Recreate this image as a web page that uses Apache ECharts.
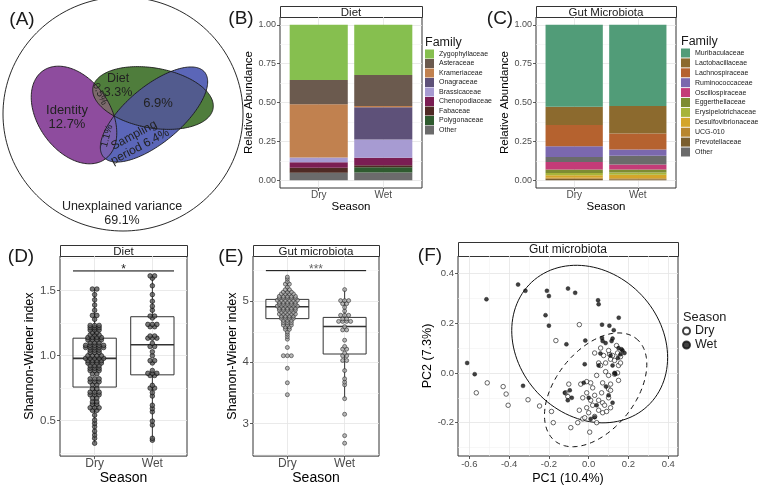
<!DOCTYPE html>
<html>
<head>
<meta charset="utf-8">
<script src="https://cdn.jsdelivr.net/npm/echarts@6.0.0/dist/echarts.min.js"></script>
<style>
html,body{margin:0;padding:0;background:#ffffff;}
#chart{width:765px;height:486px;}
</style>
</head>
<body>
<div id="chart"></div>
<script>
// ===================== DATA =====================
const seasons = ['Dry', 'Wet'];

// (A) variance partitioning (Euler diagram), coordinates in panel units
const vennSets = ['Diet', 'Identity', 'Sampling period'];
const vennCx = [153, 74, 154];
const vennCy = [98, 115, 114.5];
const vennRx = [61, 54, 66];
const vennRy = [30, 36, 28];
const vennAngle = [10, 55, -40];
const vennPairs = [[0, 1], [1, 2], [0, 2]];
const universeCircle = [123, 114, 120, 117];
const vennLabels = ['Identity\n12.7%', 'Diet\n3.3%', '6.9%', 'Sampling\nperiod 6.4%', '1.1%', '0.5%', 'Unexplained variance\n69.1%'];
const vennLabelX = [67, 118, 158, 137, 107, 100, 122];
const vennLabelY = [117, 85.5, 103, 141, 136, 94, 213.5];
const vennLabelAngle = [0, 0, 0, 28, 75, -65, 0];

// (B) diet composition
const dietFamilies = ['Zygophyllaceae', 'Asteraceae', 'Krameriaceae', 'Onagraceae', 'Brassicaceae', 'Chenopodiaceae', 'Fabaceae', 'Polygonaceae', 'Other'];
const dietDry = [0.355, 0.157, 0.341, 0.000, 0.032, 0.035, 0.032, 0.001, 0.047];
const dietWet = [0.323, 0.200, 0.008, 0.207, 0.118, 0.047, 0.013, 0.034, 0.050];

// (C) gut microbiota composition
const gutFamilies = ['Muribaculaceae', 'Lactobacillaceae', 'Lachnospiraceae', 'Ruminococcaceae', 'Oscillospiraceae', 'Eggerthellaceae', 'Erysipelotrichaceae', 'Desulfovibrionaceae', 'UCG-010', 'Prevotellaceae', 'Other'];
const gutStackTopDown = ['Muribaculaceae', 'Lactobacillaceae', 'Lachnospiraceae', 'Ruminococcaceae', 'Other', 'Oscillospiraceae', 'Eggerthellaceae', 'Erysipelotrichaceae', 'Desulfovibrionaceae', 'UCG-010', 'Prevotellaceae'];
const gutDry = [0.527, 0.118, 0.136, 0.069, 0.049, 0.022, 0.015, 0.016, 0.006, 0.010, 0.032];
const gutWet = [0.523, 0.176, 0.103, 0.041, 0.032, 0.019, 0.015, 0.023, 0.005, 0.007, 0.056];

// (D) diet Shannon-Wiener index
const dietShannonDry = [1.513, 1.513, 1.47, 1.43, 1.39, 1.35, 1.31, 1.31, 1.28, 1.233, 1.233, 1.233, 1.216, 1.216, 1.216, 1.198, 1.198, 1.198, 1.178, 1.178, 1.16, 1.16, 1.16, 1.14, 1.14, 1.14, 1.14, 1.122, 1.122, 1.122, 1.122, 1.10, 1.10, 1.10, 1.08, 1.08, 1.08, 1.08, 1.08, 1.063, 1.063, 1.063, 1.063, 1.063, 1.043, 1.043, 1.043, 1.025, 1.025, 1.025, 1.0, 1.0, 1.0, 1.0, 0.98, 0.98, 0.98, 0.98, 0.98, 0.962, 0.962, 0.962, 0.962, 0.944, 0.944, 0.944, 0.944, 0.924, 0.924, 0.924, 0.904, 0.904, 0.904, 0.886, 0.886, 0.886, 0.86, 0.86, 0.822, 0.822, 0.822, 0.80, 0.80, 0.80, 0.777, 0.777, 0.746, 0.746, 0.72, 0.72, 0.72, 0.70, 0.70, 0.70, 0.675, 0.675, 0.645, 0.645, 0.627, 0.627, 0.60, 0.60, 0.60, 0.58, 0.58, 0.543, 0.505, 0.48, 0.454, 0.42, 0.39, 0.365, 0.327];
const dietShannonWet = [1.614, 1.614, 1.596, 1.538, 1.47, 1.419, 1.381, 1.35, 1.305, 1.305, 1.29, 1.241, 1.241, 1.241, 1.223, 1.223, 1.152, 1.152, 1.135, 1.135, 1.135, 1.096, 1.071, 1.071, 1.03, 1.0, 0.962, 0.962, 0.944, 0.886, 0.865, 0.865, 0.865, 0.848, 0.848, 0.772, 0.751, 0.751, 0.716, 0.69, 0.619, 0.594, 0.569, 0.497, 0.467, 0.365, 0.35];
const dietBoxDry = [0.327, 0.759, 0.98, 1.135, 1.513];
const dietBoxWet = [0.35, 0.853, 1.084, 1.30, 1.614];
const dietSig = [0.625, 2.375, 1.652];
const dietSigLabel = '*';

// (E) gut microbiota Shannon-Wiener index
const gutShannonDry = [5.395, 5.362, 5.32, 5.28, 5.28, 5.232, 5.19, 5.19, 5.15, 5.15, 5.15, 5.12, 5.12, 5.12, 5.12, 5.08, 5.08, 5.08, 5.08, 5.08, 5.05, 5.05, 5.05, 5.05, 5.05, 5.016, 5.016, 5.016, 5.016, 5.016, 5.016, 4.984, 4.984, 4.984, 4.984, 4.984, 4.95, 4.95, 4.95, 4.95, 4.95, 4.92, 4.92, 4.92, 4.92, 4.92, 4.92, 4.886, 4.886, 4.886, 4.886, 4.886, 4.854, 4.854, 4.854, 4.854, 4.854, 4.82, 4.82, 4.82, 4.82, 4.79, 4.79, 4.79, 4.79, 4.79, 4.757, 4.757, 4.757, 4.757, 4.72, 4.72, 4.72, 4.72, 4.686, 4.686, 4.686, 4.65, 4.65, 4.65, 4.61, 4.61, 4.61, 4.578, 4.578, 4.54, 4.54, 4.497, 4.46, 4.42, 4.378, 4.243, 4.108, 4.108, 4.108, 3.903, 3.665, 3.47];
const gutShannonWet = [5.19, 5.01, 5.01, 5.01, 4.96, 4.96, 4.90, 4.84, 4.77, 4.77, 4.77, 4.71, 4.71, 4.67, 4.67, 4.67, 4.67, 4.584, 4.53, 4.53, 4.362, 4.26, 4.216, 4.216, 4.15, 4.108, 4.108, 4.03, 4.03, 3.865, 3.73, 3.676, 3.632, 3.405, 3.15, 2.80, 2.676];
const gutBoxDry = [4.378, 4.715, 4.91, 5.03, 5.395];
const gutBoxWet = [3.405, 4.136, 4.585, 4.735, 5.19];
const gutSig = [0.625, 2.375, 5.50];
const gutSigLabel = '***';

// (F) PCA of gut microbiota
const pcaDry = [[-0.565,-0.080],[-0.510,-0.040],[-0.430,-0.055],[-0.415,-0.085],[-0.405,-0.130],[-0.305,-0.108],[-0.247,-0.133],[-0.187,-0.155],[-0.178,-0.200],[-0.165,0.130],[-0.090,-0.220],[-0.100,-0.045],[-0.105,-0.095],[-0.115,-0.080],[-0.047,-0.150],[-0.055,-0.200],[-0.030,-0.185],[-0.047,0.194],[0.030,0.080],[0.075,0.070],[0.105,0.075],[0.120,0.070],[0.145,0.080],[0.110,0.055],[0.050,0.040],[0.060,0.030],[0.085,0.040],[0.150,0.030],[0.160,0.040],[0.145,0.000],[0.130,-0.005],[0.100,-0.010],[0.040,-0.010],[-0.010,-0.035],[0.010,-0.040],[-0.040,-0.045],[0.020,-0.060],[0.070,-0.040],[0.100,-0.065],[0.110,-0.070],[0.065,-0.080],[0.030,-0.090],[-0.010,-0.080],[-0.030,-0.100],[0.010,-0.110],[0.050,-0.110],[0.070,-0.120],[0.100,-0.100],[0.080,-0.130],[0.110,-0.140],[0.050,-0.150],[0.020,-0.130],[-0.010,-0.140],[0.000,-0.160],[0.030,-0.175],[-0.020,-0.180],[0.070,-0.160],[0.090,-0.155],[0.040,-0.200],[0.110,-0.045],[0.150,-0.030],[0.085,0.005],[0.060,0.100],[0.140,0.110],[0.100,0.090],[0.130,0.050],[0.005,-0.238],[0.160,0.065]];
const pcaWet = [[-0.611,0.040],[-0.573,-0.005],[-0.514,0.296],[-0.355,0.355],[-0.318,0.330],[-0.330,-0.052],[-0.210,0.330],[-0.200,0.309],[-0.217,0.232],[-0.200,0.190],[-0.104,0.339],[-0.068,0.322],[-0.112,0.115],[-0.120,-0.080],[-0.105,-0.110],[-0.095,-0.070],[-0.085,-0.100],[-0.017,0.130],[-0.020,0.035],[-0.025,-0.040],[0.000,-0.100],[0.047,0.292],[0.050,0.276],[0.151,0.222],[0.067,0.194],[0.104,0.190],[0.126,0.172],[0.067,0.140],[0.070,0.128],[0.120,0.138],[0.115,0.128],[0.170,0.090],[0.180,0.080],[0.147,0.060],[0.059,0.078],[0.134,-0.004],[0.087,-0.055],[0.100,-0.090],[0.120,0.030],[0.160,0.075],[0.085,0.120],[0.040,-0.130],[0.130,0.000],[0.150,0.100],[0.110,0.070],[0.050,0.030],[0.165,0.095],[0.120,-0.120],[0.030,-0.178],[0.010,-0.185]];
// 95% ellipses: centre and the two semi-axis vectors (data units)
const ellipseSeason = ['Wet', 'Dry'];
const ellipseCx = [0.005, 0.035];
const ellipseCy = [0.116, -0.068];
const ellipseAx = [0.2914, 0.2038];
const ellipseAy = [-0.2489, 0.2062];
const ellipseBx = [-0.2619, 0.157];
const ellipseBy = [-0.1958, -0.0991];

// tick values
const seasonTicks = [1, 2];
const abundTicks = [0, 0.25, 0.5, 0.75, 1];
const abundMinor = [0.125, 0.375, 0.625, 0.875];
const dietShTicks = [0.5, 1.0, 1.5];
const dietShMinor = [0.25, 0.75, 1.25, 1.75];
const gutShTicks = [3, 4, 5];
const gutShMinor = [2.5, 3.5, 4.5, 5.5];
const pc1Ticks = [-0.6, -0.4, -0.2, 0, 0.2, 0.4];
const pc1Minor = [-0.5, -0.3, -0.1, 0.1, 0.3];
const pc2Ticks = [-0.2, 0, 0.2, 0.4];
const pc2Minor = [-0.3, -0.1, 0.1, 0.3];

// ===================== STYLE =====================
const FONT = '"Liberation Sans", Arial, sans-serif';
const vennFill = ['#4f7d3c', '#8e4c9e', '#5b66b8'];
const vennPairFill = ['#7d6a6c', '#7760ae', '#525b8e'];
const vennLabelSize = [13, 12.5, 13, 12, 10, 10, 12.5];
const dietColors = ['#86bf4f', '#6b5a4e', '#c1814f', '#5e5179', '#a79bd2', '#7b1e53', '#4f2a24', '#2f5b2f', '#6b6b6b'];
const gutColors = ['#519c78', '#8c6a2e', '#b5622f', '#7b68ae', '#c43c78', '#7d8c32', '#a7b43a', '#d4a52a', '#b8862e', '#7a5e2e', '#6b6b6b'];

function txt(text, x, y, size, opt) {
  opt = opt || {};
  const align = opt.align || 'center';
  const va = opt.va || 'middle';
  return {
    type: 'text', x: x, y: y, rotation: opt.rotation || 0, z: 100,
    style: {
      text: text, font: size + 'px ' + FONT, fill: opt.color || '#1a1a1a',
      align: align, textAlign: align, verticalAlign: va, textVerticalAlign: va,
      lineHeight: opt.lineHeight || undefined
    }
  };
}

// ===================== RENDERERS =====================
function vennGeom(api, i) {
  const c = api.coord([vennCx[i], vennCy[i]]);
  const s = api.size([vennRx[i], vennRy[i]]);
  return { c: c, rx: s[0], ry: s[1], a: vennAngle[i] * Math.PI / 180 };
}
function geomPts(g) {
  const pts = [];
  for (let k = 0; k < 180; k++) {
    const t = 2 * Math.PI * k / 180;
    const lx = g.rx * Math.cos(t), ly = g.ry * Math.sin(t);
    pts.push([g.c[0] + lx * Math.cos(g.a) - ly * Math.sin(g.a), g.c[1] + lx * Math.sin(g.a) + ly * Math.cos(g.a)]);
  }
  return pts;
}
function inside(p, g) {
  const dx = p[0] - g.c[0], dy = p[1] - g.c[1];
  const lx = dx * Math.cos(g.a) + dy * Math.sin(g.a);
  const ly = -dx * Math.sin(g.a) + dy * Math.cos(g.a);
  return (lx / g.rx) * (lx / g.rx) + (ly / g.ry) * (ly / g.ry) <= 1;
}
function intersectPoly(g1, g2) {
  const pts = geomPts(g1).filter(p => inside(p, g2)).concat(geomPts(g2).filter(p => inside(p, g1)));
  if (pts.length < 3) return [];
  let mx = 0, my = 0;
  pts.forEach(p => { mx += p[0]; my += p[1]; });
  mx /= pts.length; my /= pts.length;
  return pts.sort((p, q) => Math.atan2(p[1] - my, p[0] - mx) - Math.atan2(q[1] - my, q[0] - mx));
}
function ellipsePts(api, cx, cy, rx, ry, angDeg) {
  const c = api.coord([cx, cy]);
  const s = api.size([rx, ry]);
  return geomPts({ c: c, rx: s[0], ry: s[1], a: angDeg * Math.PI / 180 });
}
function barRender(params, api) {
  const x = api.value(0), y0 = api.value(1), y1 = api.value(2);
  if (!(y1 - y0 > 0)) return null;
  const p0 = api.coord([x - 0.45, y1]);
  const p1 = api.coord([x + 0.45, y0]);
  return { type: 'rect', shape: { x: p0[0], y: p0[1], width: p1[0] - p0[0], height: p1[1] - p0[1] }, style: { fill: api.visual('color') } };
}
function boxRender(params, api) {
  const x = api.value(0), lo = api.value(1), q1 = api.value(2), md = api.value(3), q3 = api.value(4), hi = api.value(5);
  const hw = 0.375, st = '#333333';
  const pLo = api.coord([x, lo]), pHi = api.coord([x, hi]);
  const a = api.coord([x - hw, q3]), b = api.coord([x + hw, q1]);
  const m1 = api.coord([x - hw, md]), m2 = api.coord([x + hw, md]);
  return { type: 'group', children: [
    { type: 'line', shape: { x1: pLo[0], y1: pLo[1], x2: pLo[0], y2: b[1] }, style: { stroke: st, lineWidth: 1 } },
    { type: 'line', shape: { x1: pHi[0], y1: a[1], x2: pHi[0], y2: pHi[1] }, style: { stroke: st, lineWidth: 1 } },
    { type: 'rect', shape: { x: a[0], y: a[1], width: b[0] - a[0], height: b[1] - a[1] }, style: { fill: 'none', stroke: st, lineWidth: 1 } },
    { type: 'line', shape: { x1: m1[0], y1: m1[1], x2: m2[0], y2: m2[1] }, style: { stroke: st, lineWidth: 1.6 } }
  ] };
}
function sigRender(label, color) {
  return function (params, api) {
    const a = api.coord([api.value(0), api.value(2)]);
    const b = api.coord([api.value(1), api.value(2)]);
    return { type: 'group', children: [
      { type: 'line', shape: { x1: a[0], y1: a[1], x2: b[0], y2: b[1] }, style: { stroke: '#000', lineWidth: 1 } },
      txt(label, (a[0] + b[0]) / 2, a[1] - 1, 12, { color: color })
    ] };
  };
}
function dotLayout(values, xc, step) {
  const v = values.slice().sort((p, q) => p - q);
  const out = [];
  let i = 0;
  while (i < v.length) {
    let j = i;
    while (j < v.length && Math.abs(v[j] - v[i]) < 0.004) j++;
    const n = j - i;
    for (let k = 0; k < n; k++) out.push([xc + (k - (n - 1) / 2) * step, v[i + k]]);
    i = j;
  }
  return out;
}
function stackSeries(names, dry, wet, orderTopDown, colors, xi, yi) {
  const out = [];
  let cd = 0, cw = 0;
  orderTopDown.slice().reverse().forEach(n => {
    const i = names.indexOf(n);
    out.push({ type: 'custom', name: n, xAxisIndex: xi, yAxisIndex: yi, itemStyle: { color: colors[i] },
      renderItem: barRender, encode: { x: 0, y: [1, 2] }, clip: false,
      data: [[1, cd, cd + dry[i]], [2, cw, cw + wet[i]]] });
    cd += dry[i]; cw += wet[i];
  });
  return out;
}

// ===================== AXES =====================
function mkAxis(gridIndex, min, max, ticks, fmt, labelSize, margin, name, nameGap, nameSize, isY) {
  const ax = {
    type: 'value', gridIndex: gridIndex, min: min, max: max,
    axisLine: { show: false, onZero: false },
    axisTick: { show: true, length: 3, customValues: ticks, lineStyle: { color: '#333', width: 0.8 } },
    axisLabel: { show: true, customValues: ticks, formatter: fmt, fontSize: labelSize, color: '#4d4d4d', fontFamily: FONT, margin: margin },
    splitLine: { show: true, lineStyle: { color: '#e4e4e4', width: 0.8 } },
    name: name, nameLocation: 'middle', nameGap: nameGap,
    nameTextStyle: { fontFamily: FONT, fontSize: nameSize, color: '#000' }
  };
  if (isY) { ax.nameRotate = 90; ax.position = 'left'; } else { ax.position = 'bottom'; }
  return ax;
}
function mkMinor(gridIndex, min, max, ticks, isY) {
  return { type: 'value', gridIndex: gridIndex, min: min, max: max, position: isY ? 'left' : 'bottom',
    axisLine: { show: false, onZero: false }, axisTick: { show: false, customValues: ticks },
    axisLabel: { show: false, customValues: ticks },
    splitLine: { show: true, lineStyle: { color: '#f2f2f2', width: 0.6 } } };
}
const seasonFmt = v => seasons[Math.round(v) - 1];
const f2 = v => v.toFixed(2), f1 = v => v.toFixed(1), f0 = v => String(v);

const panelGrid = (l, t, w, h) => ({ left: l, top: t, width: w, height: h, show: true, backgroundColor: '#fff', borderColor: '#333', borderWidth: 1 });

const grids = [
  { left: 0, top: 0, width: 245, height: 235, show: false },
  panelGrid(280, 17, 142, 171),
  panelGrid(536, 17, 140, 171),
  panelGrid(60, 256, 127, 202),
  panelGrid(253, 256, 126, 202),
  panelGrid(458, 256, 220, 200)
];

const xAxes = [
  { type: 'value', gridIndex: 0, min: 0, max: 245, show: false },
  mkAxis(1, 0.4, 2.6, seasonTicks, seasonFmt, 10, 2, 'Season', 13, 11.5, false),
  mkAxis(2, 0.4, 2.6, seasonTicks, seasonFmt, 10, 2, 'Season', 13, 11.5, false),
  mkAxis(3, 0.4, 2.6, seasonTicks, seasonFmt, 12, 2, 'Season', 13, 14, false),
  mkAxis(4, 0.4, 2.6, seasonTicks, seasonFmt, 12, 2, 'Season', 13, 14, false),
  mkAxis(5, -0.657, 0.449, pc1Ticks, f1, 9.5, 3, 'PC1 (10.4%)', 16, 12.5, false),
  mkMinor(5, -0.657, 0.449, pc1Minor, false)
];
const yAxes = [
  { type: 'value', gridIndex: 0, min: 0, max: 235, inverse: true, show: false },
  mkAxis(1, -0.05, 1.05, abundTicks, f2, 9, 4, 'Relative Abundance', 20.5, 11.5, true),
  mkMinor(1, -0.05, 1.05, abundMinor, true),
  mkAxis(2, -0.05, 1.05, abundTicks, f2, 9, 4, 'Relative Abundance', 20.5, 11.5, true),
  mkMinor(2, -0.05, 1.05, abundMinor, true),
  mkAxis(3, 0.228, 1.767, dietShTicks, f1, 11.5, 4, 'Shannon-Wiener index', 17.5, 12.5, true),
  mkMinor(3, 0.228, 1.767, dietShMinor, true),
  mkAxis(4, 2.465, 5.74, gutShTicks, f0, 11.5, 4, 'Shannon-Wiener index', 13, 12.5, true),
  mkMinor(4, 2.465, 5.74, gutShMinor, true),
  mkAxis(5, -0.334, 0.47, pc2Ticks, f1, 9.5, 4, 'PC2 (7.3%)', 13, 12.5, true),
  mkMinor(5, -0.334, 0.47, pc2Minor, true)
];

// ===================== SERIES =====================
const series = [];
// (A)
series.push({ type: 'custom', name: 'universe', xAxisIndex: 0, yAxisIndex: 0, clip: false, silent: true,
  data: [universeCircle],
  renderItem: (p, api) => ({ type: 'polygon', shape: { points: ellipsePts(api, api.value(0), api.value(1), api.value(2), api.value(3), 0) }, style: { fill: 'none', stroke: '#111', lineWidth: 0.9 } }) });
series.push({ type: 'custom', name: 'vennFill', xAxisIndex: 0, yAxisIndex: 0, clip: false, silent: true,
  data: vennSets.map((s, i) => [vennCx[i], vennCy[i], vennRx[i], vennRy[i], vennAngle[i]]),
  renderItem: (p, api) => ({ type: 'polygon', shape: { points: geomPts(vennGeom(api, p.dataIndex)) }, style: { fill: vennFill[p.dataIndex] } }) });
series.push({ type: 'custom', name: 'vennOverlap', xAxisIndex: 0, yAxisIndex: 0, clip: false, silent: true,
  data: vennPairs.map(pr => [vennCx[pr[0]], vennCy[pr[0]]]),
  renderItem: (p, api) => {
    const pr = vennPairs[p.dataIndex];
    const poly = intersectPoly(vennGeom(api, pr[0]), vennGeom(api, pr[1]));
    if (!poly.length) return null;
    return { type: 'polygon', shape: { points: poly }, style: { fill: vennPairFill[p.dataIndex] } };
  } });
series.push({ type: 'custom', name: 'vennOutline', xAxisIndex: 0, yAxisIndex: 0, clip: false, silent: true,
  data: vennSets.map((s, i) => [vennCx[i], vennCy[i]]),
  renderItem: (p, api) => ({ type: 'polygon', shape: { points: geomPts(vennGeom(api, p.dataIndex)) }, style: { fill: 'none', stroke: '#1a1a1a', lineWidth: 0.9 } }) });
series.push({ type: 'custom', name: 'vennLabels', xAxisIndex: 0, yAxisIndex: 0, clip: false, silent: true, z: 5,
  data: vennLabels.map((s, i) => [vennLabelX[i], vennLabelY[i]]),
  renderItem: (p, api) => {
    const c = api.coord([api.value(0), api.value(1)]);
    const i = p.dataIndex;
    return txt(vennLabels[i], c[0], c[1], vennLabelSize[i], { rotation: vennLabelAngle[i] * Math.PI / 180, lineHeight: vennLabelSize[i] + 1, color: '#222' });
  } });
// (B), (C)
series.push(...stackSeries(dietFamilies, dietDry, dietWet, dietFamilies, dietColors, 1, 1));
series.push(...stackSeries(gutFamilies, gutDry, gutWet, gutStackTopDown, gutColors, 2, 3));
// (D)
series.push({ type: 'custom', name: 'dietBox', xAxisIndex: 3, yAxisIndex: 5, clip: false, silent: true,
  data: [[1].concat(dietBoxDry), [2].concat(dietBoxWet)], renderItem: boxRender });
series.push({ type: 'scatter', name: 'Diet Dry', xAxisIndex: 3, yAxisIndex: 5, symbolSize: 4.6, silent: true,
  itemStyle: { color: '#5a5a5a', borderColor: '#000', borderWidth: 0.7 }, data: dotLayout(dietShannonDry, 1, 0.078) });
series.push({ type: 'scatter', name: 'Diet Wet', xAxisIndex: 3, yAxisIndex: 5, symbolSize: 4.6, silent: true,
  itemStyle: { color: '#5a5a5a', borderColor: '#000', borderWidth: 0.7 }, data: dotLayout(dietShannonWet, 2, 0.078) });
series.push({ type: 'custom', name: 'dietSig', xAxisIndex: 3, yAxisIndex: 5, clip: false, silent: true,
  data: [dietSig], renderItem: sigRender(dietSigLabel, '#222') });
// (E)
series.push({ type: 'custom', name: 'gutBox', xAxisIndex: 4, yAxisIndex: 7, clip: false, silent: true,
  data: [[1].concat(gutBoxDry), [2].concat(gutBoxWet)], renderItem: boxRender });
series.push({ type: 'scatter', name: 'Gut Dry', xAxisIndex: 4, yAxisIndex: 7, symbolSize: 4, silent: true,
  itemStyle: { color: '#a8a8a8', borderColor: '#222', borderWidth: 0.7 }, data: dotLayout(gutShannonDry, 1, 0.07) });
series.push({ type: 'scatter', name: 'Gut Wet', xAxisIndex: 4, yAxisIndex: 7, symbolSize: 4, silent: true,
  itemStyle: { color: '#a8a8a8', borderColor: '#222', borderWidth: 0.7 }, data: dotLayout(gutShannonWet, 2, 0.07) });
series.push({ type: 'custom', name: 'gutSig', xAxisIndex: 4, yAxisIndex: 7, clip: false, silent: true,
  data: [gutSig], renderItem: sigRender(gutSigLabel, '#666') });
// (F)
series.push({ type: 'scatter', name: 'Dry', xAxisIndex: 5, yAxisIndex: 9, symbolSize: 4.5,
  itemStyle: { color: '#ffffff', borderColor: '#111', borderWidth: 0.8 }, data: pcaDry });
series.push({ type: 'scatter', name: 'Wet', xAxisIndex: 5, yAxisIndex: 9, symbolSize: 4,
  itemStyle: { color: '#111', borderColor: '#111', borderWidth: 0.5 }, data: pcaWet });
series.push({ type: 'custom', name: 'ellipses', xAxisIndex: 5, yAxisIndex: 9, clip: false, silent: true,
  data: ellipseSeason.map((s, i) => [ellipseCx[i], ellipseCy[i]]),
  renderItem: (p, api) => {
    const i = p.dataIndex, pts = [];
    for (let k = 0; k <= 120; k++) {
      const t = 2 * Math.PI * k / 120, c = Math.cos(t), s = Math.sin(t);
      pts.push(api.coord([ellipseCx[i] + ellipseAx[i] * c + ellipseBx[i] * s, ellipseCy[i] + ellipseAy[i] * c + ellipseBy[i] * s]));
    }
    return { type: 'polyline', shape: { points: pts }, style: { fill: 'none', stroke: '#111', lineWidth: 1, lineDash: ellipseSeason[i] === 'Dry' ? [5, 4] : null } };
  } });

// ===================== DECORATION (layout) =====================
const strips = [
  { x: 280, y: 6, w: 142, h: 11, t: 'Diet', s: 11.5 },
  { x: 536, y: 6, w: 140, h: 11, t: 'Gut Microbiota', s: 11.5 },
  { x: 60, y: 245, w: 127, h: 11, t: 'Diet', s: 11.5 },
  { x: 253, y: 245, w: 126, h: 11, t: 'Gut microbiota', s: 11.5 },
  { x: 458, y: 242, w: 220, h: 14, t: 'Gut microbiota', s: 12 }
];
const graphics = [];
strips.forEach(s => {
  graphics.push({ type: 'rect', shape: { x: s.x + 0.5, y: s.y + 0.5, width: s.w, height: s.h }, style: { fill: '#fff', stroke: '#333', lineWidth: 1 } });
  graphics.push(txt(s.t, s.x + s.w / 2, s.y + s.h / 2 + 1, s.s));
});
[['(A)', 22, 20], ['(B)', 241, 19], ['(C)', 500, 19], ['(D)', 21, 257], ['(E)', 231, 257], ['(F)', 430, 256]].forEach(l => graphics.push(txt(l[0], l[1], l[2], 19)));
graphics.push(txt('Family', 425, 43, 12.5, { align: 'left' }));
graphics.push(txt('Family', 681, 42, 12.5, { align: 'left' }));
graphics.push(txt('Season', 683, 317, 12.8, { align: 'left' }));

const legendBase = { orient: 'vertical', icon: 'rect', padding: 0, selectedMode: false, itemWidth: 9, itemHeight: 9,
  textStyle: { fontSize: 7, fontFamily: FONT, color: '#1a1a1a' } };

const option = {
  animation: false,
  backgroundColor: '#ffffff',
  textStyle: { fontFamily: FONT },
  grid: grids,
  xAxis: xAxes,
  yAxis: yAxes,
  legend: [
    Object.assign({}, legendBase, { data: dietFamilies, left: 425, top: 49.5, itemGap: 0.5 }),
    Object.assign({}, legendBase, { data: gutFamilies, left: 681, top: 48.5, itemGap: 0.9 }),
    { data: seasons, orient: 'vertical', left: 682, top: 324, padding: 0, selectedMode: false, itemWidth: 7, itemHeight: 7, itemGap: 0,
      textStyle: { fontSize: 12.5, lineHeight: 14, fontFamily: FONT, color: '#1a1a1a' } }
  ],
  graphic: { elements: graphics },
  series: series
};

const chart = echarts.init(document.getElementById('chart'), null, { renderer: 'canvas', devicePixelRatio: 1 });
chart.setOption(option);
</script>
</body>
</html>
